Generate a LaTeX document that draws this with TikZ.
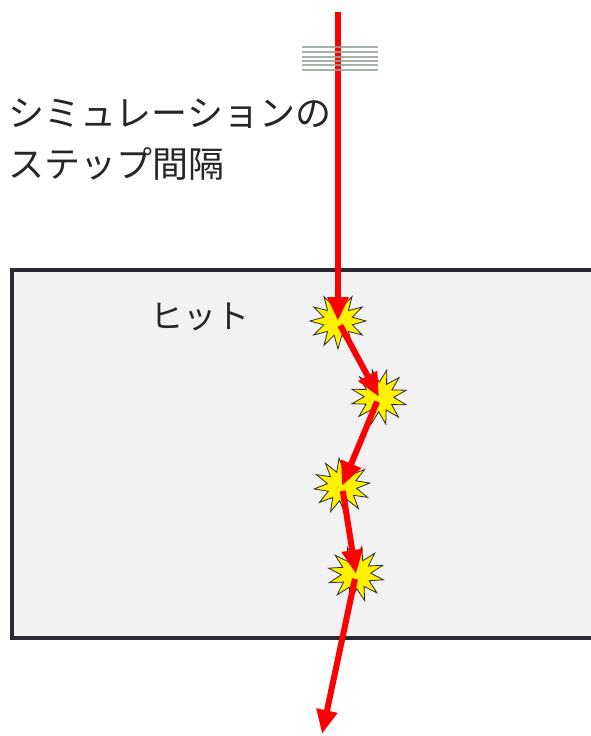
\documentclass[tikz,border=0pt]{standalone}
\usepackage{fontspec}
\setmainfont{Noto Sans CJK JP}
\usetikzlibrary{arrows.meta,shapes.geometric}
\definecolor{boxedge}{HTML}{2A2A33}
\definecolor{boxfill}{HTML}{F2F2F2}
\definecolor{gridgray}{HTML}{95A298}
\definecolor{textdark}{HTML}{262626}

\begin{document}
\begin{tikzpicture}
[x=1pt,y=-1pt,
 hitstar/.style={star,star points=12,star point ratio=1.9,minimum size=56pt,
   inner sep=0pt,draw=boxedge,fill=yellow,line width=0.8pt},
 track/.style={draw=red,line width=6pt,-{Triangle[length=24pt,width=20pt]}},
 gridline/.style={draw=gridgray,line width=1.6pt,opacity=0.85}]
\clip (0,0) rectangle (591,736);
%% detector volume
\draw[line width=4pt,draw=boxedge,fill=boxfill] (12,270) rectangle (620,638);
%% labels
\node[anchor=west,align=left,font=\fontsize{36}{51}\selectfont,text=textdark]
  (steplabel) at (5,140) {シミュレーションの\\ステップ間隔};
\node[font=\fontsize{33}{38}\selectfont,text=textdark] (hitlabel) at (200,317) {ヒット};
%% hits along the track
\foreach \name/\x/\y/\rot in {s1/338/321/0, s2/379/397/14, s3/342/486/6, s4/356/574/18} {
  \node[hitstar,rotate=\rot] (\name) at (\x,\y) {};
}
\coordinate (top) at (338,12);
\coordinate (exit) at (322,734);
%% the track, one step per arrow
\draw[track] (top) -- (s1.center);
\foreach \from/\to in {s1/s2, s2/s3, s3/s4, s4/exit} {
  \draw[track,shorten <=5pt] (\from.center) -- (\to.center);
}
%% step grid
\foreach \y in {47,52,57,61,65,70} {
  \draw[gridline] (302,\y) -- (378,\y);
}
\end{tikzpicture}
\end{document}
